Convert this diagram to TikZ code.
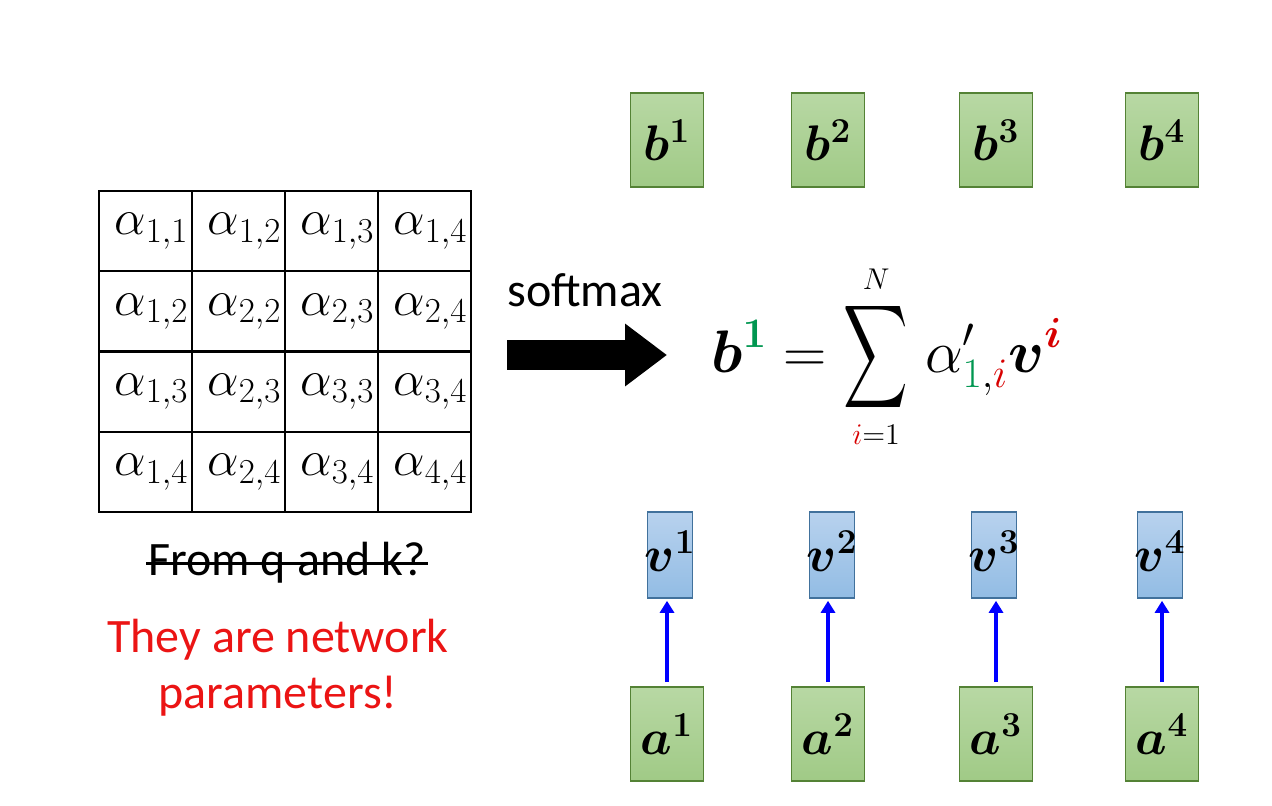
\RequirePackage{fix-cm}
\documentclass[tikz,border=0pt]{standalone}
\usepackage{amsmath}
\usepackage{bm}
\usepackage[no-math]{fontspec}
\setmainfont{Carlito}
\usetikzlibrary{arrows.meta}

\definecolor{greenline}{RGB}{84,130,53}
\definecolor{greentop}{RGB}{184,216,164}
\definecolor{greenbot}{RGB}{160,202,134}
\definecolor{blueline}{RGB}{65,113,156}
\definecolor{bluetop}{RGB}{184,210,238}
\definecolor{bluebot}{RGB}{146,188,228}
\definecolor{eqgreen}{RGB}{0,150,80}
\definecolor{eqred}{RGB}{215,0,0}
\definecolor{alertred}{RGB}{235,20,20}

\begin{document}
\begin{tikzpicture}[
    x=0.5pt, y=-0.5pt,
    >={Triangle[length=6pt, width=7pt]},
    cell/.style  = {draw, line width=1pt, minimum width=46.5pt,
                    minimum height=40.2pt, inner sep=0pt,
                    font=\fontsize{25}{25}\selectfont},
    hbox/.style  = {draw=greenline, line width=0.8pt, top color=greentop,
                    bottom color=greenbot, minimum width=36.5pt,
                    minimum height=47pt, inner sep=0pt,
                    font=\fontsize{25}{25}\selectfont},
    vbox/.style  = {draw=blueline, line width=0.8pt, top color=bluetop,
                    bottom color=bluebot, minimum width=22.5pt,
                    minimum height=43pt, inner sep=0pt},
    vname/.style = {inner sep=0pt, font=\fontsize{25}{25}\selectfont},
    word/.style  = {inner sep=0pt, font=\fontsize{24}{28}\selectfont},
    flow/.style  = {->, blue, line width=2pt, shorten <=2pt, shorten >=1pt},
    bigarrow/.style = {-{Triangle[length=21pt, width=30pt]}, line width=15pt}
]
\useasboundingbox (0,0) rectangle (1272,805);

% Attention weight matrix
\foreach \r in {1,...,4}
  \foreach \c in {1,...,4} {
    \pgfmathtruncatemacro\lo{min(\r,\c)}
    \pgfmathtruncatemacro\hi{max(\r,\c)}
    \node[cell] (m\r\c) at ({99+93*(\c-0.5)}, {191+80.25*(\r-0.5)}) {\hspace{6pt}$\alpha_{\lo,\hi}$};
  }

% Remarks under the matrix
\node[word] (from) at (287,563) {From q and k?};
\draw[line width=1.5pt] ([xshift=-1pt]from.west) -- ([xshift=1pt]from.east);
\node[word, text=alertred, align=center] (param) at (278,668) {They are network\\parameters!};

% Softmax arrow
\node[word] (soft) at (585,290) {softmax};
\coordinate (arrS) at (507,355);
\coordinate (arrE) at (667,355);
\draw[bigarrow] (arrS) -- (arrE);

% Weighted sum
\node[anchor=west, inner sep=0pt, font=\fontsize{30}{30}\selectfont] (eq) at (711,357)
  {$\displaystyle \bm{b}^{\color{eqgreen}\mathbf{1}} =
   \mathop{\vcenter{\hbox{\scalebox{0.9}[1.45]{$\displaystyle\sum$}}}}\limits_{\scriptscriptstyle{\color{eqred}i}=1}^{\scriptscriptstyle N}
   \mkern2mu\alpha'_{{\color{eqgreen}1},{\color{eqred}i}}\bm{v}^{\color{eqred}\bm{i}}$};

% Outputs, values and inputs
\foreach \i/\x/\xv in {1/667/670, 2/828/832, 3/996/994, 4/1162/1160} {
  \node[hbox] (b\i) at (\x,140) {$\bm{b}^{\mathbf{\i}}$};
  \node[vbox] (v\i) at (\xv,555) {};
  \node[vname] (vn\i) at ([yshift=2pt]v\i.center) {$\bm{v}^{\mathbf{\i}}$};
  \node[hbox] (a\i) at (\x,734) {$\bm{a}^{\mathbf{\i}}$};
  \draw[flow] (a\i.north) -- (a\i.north |- v\i.south);
}

\end{tikzpicture}
\end{document}
